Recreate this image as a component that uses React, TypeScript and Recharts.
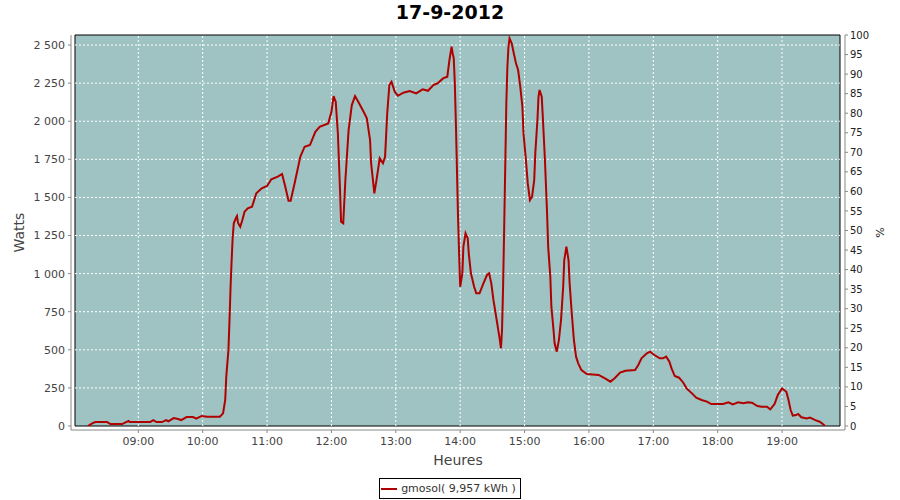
import React from "react";
import {
  LineChart,
  Line,
  XAxis,
  YAxis,
  ReferenceArea,
  ReferenceLine,
  Legend,
} from "recharts";

const times = [
  "08:13", "08:17", "08:20", "08:31", "08:34", "08:45", "08:48", "08:51", "08:52", "09:11",
  "09:14", "09:17", "09:22", "09:26", "09:28", "09:33", "09:37", "09:40", "09:45", "09:51",
  "09:54", "09:59", "10:04", "10:16", "10:19", "10:21", "10:22", "10:24", "10:25", "10:26",
  "10:27", "10:28", "10:29", "10:31", "10:32", "10:33", "10:35", "10:37", "10:39", "10:42",
  "10:46", "10:48", "10:50", "10:55", "11:00", "11:04", "11:10", "11:14", "11:17", "11:20",
  "11:22", "11:26", "11:31", "11:35", "11:40", "11:45", "11:49", "11:57", "12:00", "12:02",
  "12:04", "12:06", "12:08", "12:09", "12:11", "12:13", "12:16", "12:19", "12:22", "12:25",
  "12:30", "12:33", "12:36", "12:37", "12:40", "12:42", "12:45", "12:48", "12:50", "12:52",
  "12:54", "12:56", "12:59", "13:02", "13:07", "13:13", "13:19", "13:25", "13:30", "13:35",
  "13:39", "13:44", "13:48", "13:50", "13:52", "13:53", "13:54", "13:55", "13:56", "13:57",
  "13:58", "13:59", "14:00", "14:02", "14:03", "14:05", "14:07", "14:08", "14:10", "14:13",
  "14:15", "14:18", "14:21", "14:25", "14:27", "14:29", "14:31", "14:33", "14:35", "14:37",
  "14:38", "14:39", "14:40", "14:41", "14:42", "14:43", "14:44", "14:45", "14:46", "14:48",
  "14:50", "14:52", "14:54", "14:56", "14:58", "14:59", "15:01", "15:03", "15:05", "15:07",
  "15:09", "15:10", "15:12", "15:13", "15:14", "15:16", "15:17", "15:19", "15:20", "15:21",
  "15:22", "15:24", "15:25", "15:27", "15:28", "15:30", "15:32", "15:34", "15:36", "15:37",
  "15:39", "15:41", "15:42", "15:44", "15:46", "15:48", "15:50", "15:53", "15:58", "16:09",
  "16:15", "16:20", "16:24", "16:29", "16:34", "16:43", "16:46", "16:49", "16:54", "16:57",
  "17:01", "17:06", "17:09", "17:12", "17:15", "17:17", "17:20", "17:24", "17:28", "17:31",
  "17:36", "17:40", "17:45", "17:50", "17:54", "17:59", "18:05", "18:10", "18:14", "18:19",
  "18:24", "18:28", "18:32", "18:37", "18:41", "18:46", "18:49", "18:53", "18:56", "19:00",
  "19:04", "19:06", "19:08", "19:10", "19:13", "19:15", "19:18", "19:23", "19:26", "19:31",
  "19:35", "19:38", "19:40",
];

const watts = [
  0, 17, 26, 26, 13, 13, 24, 33, 26, 26,
  39, 26, 26, 39, 31, 52, 46, 39, 59, 59,
  48, 66, 61, 61, 83, 171, 324, 499, 695, 914,
  1090, 1242, 1330, 1365, 1378, 1332, 1308, 1352, 1406, 1428,
  1439, 1483, 1527, 1560, 1575, 1619, 1636, 1654, 1570, 1478,
  1478, 1603, 1767, 1833, 1844, 1931, 1964, 1986, 2062, 2165,
  2128, 1921, 1549, 1341, 1330, 1614, 1942, 2106, 2165, 2128,
  2062, 2019, 1877, 1724, 1527, 1614, 1757, 1724, 1767, 2052,
  2238, 2259, 2194, 2167, 2187, 2198, 2183, 2209, 2200, 2238,
  2249, 2281, 2292, 2402, 2489, 2445, 2413, 2249, 1986, 1680,
  1373, 1133, 914, 1002, 1177, 1265, 1232, 1133, 1002, 914,
  871, 871, 925, 991, 1002, 936, 827, 740, 652, 564,
  510, 630, 914, 1300, 1700, 2117, 2358, 2489, 2544, 2511,
  2445, 2380, 2336, 2227, 2095, 1921, 1767, 1592, 1483, 1505,
  1614, 1789, 2008, 2161, 2205, 2161, 2030, 1746, 1570, 1395,
  1177, 980, 783, 630, 543, 488, 564, 696, 914, 1089,
  1177, 1089, 936, 740, 564, 455, 411, 367, 341, 335,
  313, 291, 313, 350, 363, 367, 400, 444, 477, 488,
  466, 444, 444, 455, 422, 378, 328, 317, 284, 247,
  214, 186, 171, 160, 144, 144, 144, 155, 142, 155,
  149, 155, 153, 131, 127, 127, 109, 144, 203, 247,
  225, 171, 105, 68, 72, 79, 57, 50, 55, 39,
  28, 13, 0,
];

const hourTicks = ["09:00", "10:00", "11:00", "12:00", "13:00", "14:00", "15:00", "16:00", "17:00", "18:00", "19:00"];
const wattTicks = [0, 250, 500, 750, 1000, 1250, 1500, 1750, 2000, 2250, 2500];
const pctTicks = [0, 5, 10, 15, 20, 25, 30, 35, 40, 45, 50, 55, 60, 65, 70, 75, 80, 85, 90, 95, 100];

const seriesName = "gmosol( 9,957 kWh )";
const title = "17-9-2012";

const toMin = (s: string) => {
  const [h, m] = s.split(":").map(Number);
  return h * 60 + m;
};
const fmtTime = (v: number) => {
  const h = Math.floor(v / 60);
  const m = Math.round(v % 60);
  return `${String(h).padStart(2, "0")}:${String(m).padStart(2, "0")}`;
};
const fmtWatts = (v: number) => String(v).replace(/\B(?=(\d{3})+(?!\d))/g, " ");

const data = times.map((t, i) => ({ t: toMin(t), w: watts[i] }));
const xTicks = hourTicks.map(toMin);

const X_MIN = 481;
const X_MAX = 1194;
const Y_MAX = 2566;

const FONT = "'DejaVu Sans', sans-serif";
const BG = "#9ec3c2";
const RED = "#b00000";

function LegendBox() {
  return (
    <div style={{ display: "flex", justifyContent: "center", fontFamily: FONT }}>
      <div
        style={{
          display: "flex",
          alignItems: "center",
          border: "1px solid #000",
          height: 19,
          padding: "0 4px 0 1px",
          background: "#fff",
          fontSize: 11,
          color: "#333",
        }}
      >
        <svg width={16} height={4} style={{ marginRight: 4 }}>
          <line x1={0} y1={2} x2={16} y2={2} stroke={RED} strokeWidth={2} />
        </svg>
        <span>{seriesName}</span>
      </div>
    </div>
  );
}

export default function App() {
  return (
    <div style={{ position: "absolute", left: 0, top: 0, width: 900, height: 500, background: "#fff", fontFamily: FONT }}>
      <div
        style={{
          position: "absolute",
          top: 1,
          width: 900,
          textAlign: "center",
          fontSize: 19,
          fontWeight: "bold",
          color: "#000",
        }}
      >
        {title}
      </div>
      <LineChart
        width={900}
        height={500}
        data={data}
        margin={{ top: 35, right: 0, bottom: 0, left: 0 }}
      >
        <XAxis
          dataKey="t"
          type="number"
          domain={[X_MIN, X_MAX]}
          allowDataOverflow
          ticks={xTicks}
          tickFormatter={fmtTime}
          padding={{ left: 4, right: 5 }}
          height={70}
          stroke="#888"
          tickSize={3}
          tickMargin={4}
          tick={{ fill: "#444", fontSize: 11, fontFamily: FONT }}
          label={({ viewBox }: any) => (
            <text
              x={viewBox.x + viewBox.width / 2}
              y={viewBox.y + 35}
              textAnchor="middle"
              fontSize={14}
              fontFamily={FONT}
              fill="#444"
            >
              Heures
            </text>
          )}
        />
        <YAxis
          yAxisId="w"
          domain={[0, Y_MAX]}
          allowDataOverflow
          ticks={wattTicks}
          tickFormatter={fmtWatts}
          padding={{ top: 0, bottom: 4 }}
          width={71}
          stroke="#888"
          tickSize={3}
          tickMargin={3}
          tick={{ fill: "#444", fontSize: 11, fontFamily: FONT }}
          label={({ viewBox }: any) => {
            const cy = viewBox.y + viewBox.height / 2;
            return (
              <text
                x={24}
                y={cy}
                transform={`rotate(-90 24 ${cy})`}
                textAnchor="middle"
                fontSize={14}
                fontFamily={FONT}
                fill="#444"
              >
                Watts
              </text>
            );
          }}
        />
        <YAxis
          yAxisId="pct"
          orientation="right"
          domain={[0, 100]}
          allowDataOverflow
          ticks={pctTicks}
          padding={{ top: 0, bottom: 4 }}
          width={55}
          stroke="#888"
          tickSize={3}
          tickMargin={2}
          tick={{ fill: "#222", fontSize: 10, fontFamily: FONT }}
          label={({ viewBox }: any) => {
            const cy = viewBox.y + viewBox.height / 2;
            return (
              <text
                x={884}
                y={cy}
                transform={`rotate(-90 884 ${cy})`}
                textAnchor="middle"
                fontSize={11}
                fontFamily={FONT}
                fill="#222"
              >
                %
              </text>
            );
          }}
        />
        <ReferenceArea
          yAxisId="w"
          x1={X_MIN}
          x2={X_MAX}
          y1={0}
          y2={Y_MAX}
          fill={BG}
          fillOpacity={1}
          stroke="#000"
          strokeWidth={1}
        />
        {wattTicks.slice(1).map((v) => (
          <ReferenceLine
            key={"h" + v}
            yAxisId="w"
            segment={[{ x: X_MIN, y: v }, { x: X_MAX, y: v }]}
            stroke="#fff"
            strokeDasharray="2 2"
          />
        ))}
        {xTicks.map((v) => (
          <ReferenceLine
            key={"v" + v}
            yAxisId="w"
            segment={[{ x: v, y: 0 }, { x: v, y: Y_MAX }]}
            stroke="#fff"
            strokeDasharray="2 2"
          />
        ))}
        <Line
          yAxisId="w"
          type="linear"
          dataKey="w"
          name={seriesName}
          stroke={RED}
          strokeWidth={2}
          dot={false}
          isAnimationActive={false}
        />
        <Legend
          layout="horizontal"
          verticalAlign="middle"
          align="center"
          content={() => <LegendBox />}
          wrapperStyle={{ position: "absolute", left: 0, top: 478, width: 900, height: 21 }}
        />
      </LineChart>
    </div>
  );
}
